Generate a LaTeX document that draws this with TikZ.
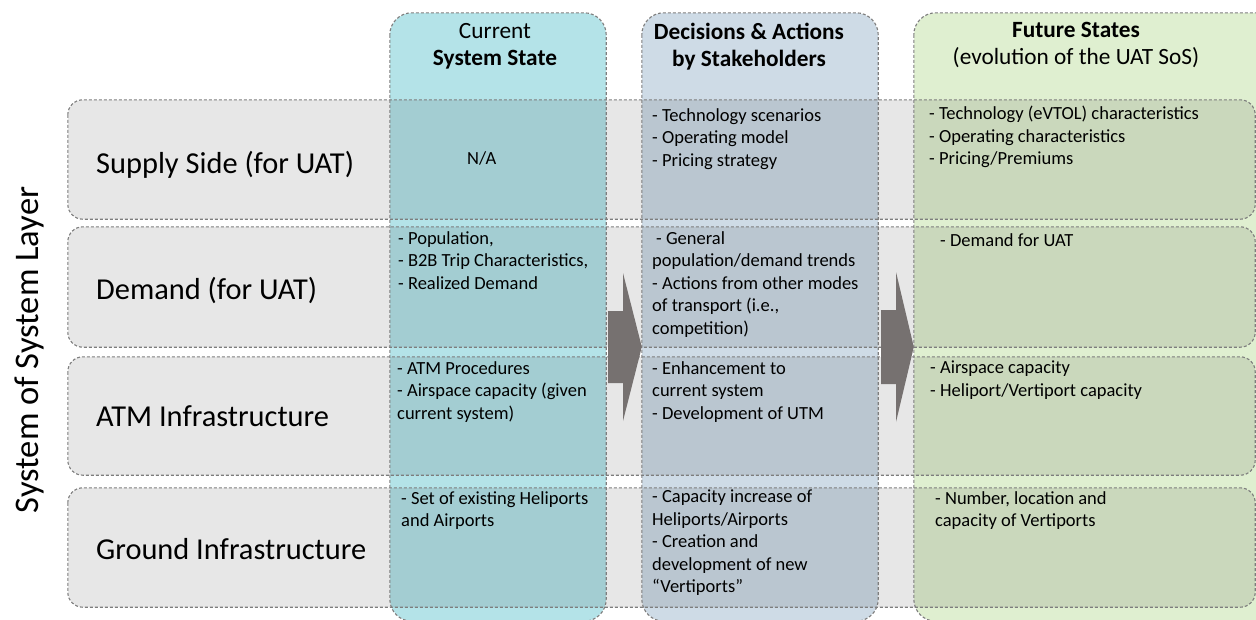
\documentclass[tikz,border=0pt]{standalone}
\usepackage{fontspec}
\setmainfont{Carlito}
\definecolor{rowgray}{RGB}{231,231,231}
\definecolor{cyancol}{RGB}{180,227,232}
\definecolor{bluecol}{RGB}{206,219,230}
\definecolor{greencol}{RGB}{223,239,208}
\definecolor{arrowgray}{RGB}{118,113,112}
\definecolor{bordergray}{RGB}{125,125,125}
\tikzset{
  rowbox/.style={rectangle, rounded corners=15pt, fill=rowgray, inner sep=0pt},
  colbox/.style={rectangle, rounded corners=22pt, inner sep=0pt},
  dashborder/.style={draw=bordergray, line width=1.1pt, dash pattern=on 3pt off 2pt},
  celltxt/.style={anchor=north west, align=left, inner sep=0pt,
     font=\fontsize{18.5}{22.5}\selectfont, execute at begin node={\rule{0pt}{16pt}}},
  headtxt/.style={anchor=north, align=center, inner sep=0pt,
     font=\fontsize{23.3}{27}\selectfont, execute at begin node={\rule{0pt}{20pt}}},
  rowlabel/.style={anchor=base west, inner sep=0pt, font=\fontsize{30.4}{34}\selectfont},
  blockarrow/.style={fill=arrowgray},
}
\begin{document}
\begin{tikzpicture}[x=1pt,y=-1pt]
\path[use as bounding box] (0,0) rectangle (1256,619);
\clip (0,0) rectangle (1256,619);
% rows
\node[rowbox, minimum width=1187pt, minimum height=119pt] (r1) at (661.5,159.5) {};
\node[rowbox, minimum width=1187pt, minimum height=120pt] (r2) at (661.5,287) {};
\node[rowbox, minimum width=1187pt, minimum height=118pt] (r3) at (661.5,416) {};
\node[rowbox, minimum width=1187pt, minimum height=119pt] (r4) at (661.5,547.5) {};
% columns (multiply over rows)
\begin{scope}[blend mode=multiply]
\node[colbox, fill=cyancol, minimum width=216pt, minimum height=608pt] (c1) at (498,317) {};
\node[colbox, fill=bluecol, minimum width=236pt, minimum height=608pt] (c2) at (760,317) {};
\node[colbox, fill=greencol, minimum width=366pt, minimum height=608pt] (c3) at (1097,317) {};
\end{scope}
% borders
\foreach \r in {r1,r2,r3,r4}
  \draw[dashborder, rounded corners=15pt] (\r.north west) rectangle (\r.south east);
\foreach \c in {c1,c2,c3}
  \draw[dashborder, rounded corners=22pt] (\c.north west) rectangle (\c.south east);
% block arrows
\coordinate (a1) at (608,347);
\coordinate (a2) at (881,347);
\fill[blockarrow] (a1) ++(0,-36) -- ++(15,0) -- ++(0,-38) -- (c2.west |- a1) -- (623,421) -- (623,383) -- (608,383) -- cycle;
\fill[blockarrow] (a2) ++(0,-37) -- ++(15,0) -- ++(0,-38) -- (c3.west |- a2) -- (896,422) -- (896,384) -- (881,384) -- cycle;
% side label
\node[rotate=90, anchor=base, inner sep=0pt, font=\fontsize{34.5}{38}\selectfont] (side) at (38,350) {System of System Layer};
% headers
\node[headtxt] (h1) at (495,43-20) {Current\\\textbf{System State}};
\node[headtxt] (h2) at (749,43-20) {\textbf{Decisions \& Actions}\\\textbf{by Stakeholders}};
\node[headtxt] (h3) at (1076,42-20) {\textbf{Future States}\\(evolution of the UAT SoS)};
% row labels
\node[rowlabel] (l1) at (96,173) {Supply Side (for UAT)};
\node[rowlabel] (l2) at (96,299) {Demand (for UAT)};
\node[rowlabel] (l3) at (96,426) {ATM Infrastructure};
\node[rowlabel] (l4) at (96,559) {Ground Infrastructure};
% column 1 cells
\node[celltxt] (t11) at (467,164-16) {N/A};
\node[celltxt] (t12) at (398,247-16) {- Population,\\- B2B Trip Characteristics,\\- Realized Demand};
\node[celltxt] (t13) at (397,377-16) {- ATM Procedures\\- Airspace capacity (given\\current system)};
\node[celltxt] (t14) at (401,507-16) {- Set of existing Heliports\\and Airports};
% column 2 cells
\node[celltxt] (t21) at (652,124-16) {- Technology scenarios\\- Operating model\\- Pricing strategy};
\node[celltxt] (t22) at (652,247-16) {\hspace{4pt}- General\\population/demand trends\\- Actions from other modes\\of transport (i.e.,\\competition)};
\node[celltxt] (t23) at (652,377-16) {- Enhancement to\\current system\\- Development of UTM};
\node[celltxt] (t24) at (652,506-16) {- Capacity increase of\\Heliports/Airports\\- Creation and\\development of new\\“Vertiports”};
% column 3 cells
\node[celltxt] (t31) at (929,122-16) {- Technology (eVTOL) characteristics\\- Operating characteristics\\- Pricing/Premiums};
\node[celltxt] (t32) at (940,246-16) {- Demand for UAT};
\node[celltxt] (t33) at (930,377-16) {- Airspace capacity\\- Heliport/Vertiport capacity};
\node[celltxt] (t34) at (935,507-16) {- Number, location and\\capacity of Vertiports};
\end{tikzpicture}
\end{document}
